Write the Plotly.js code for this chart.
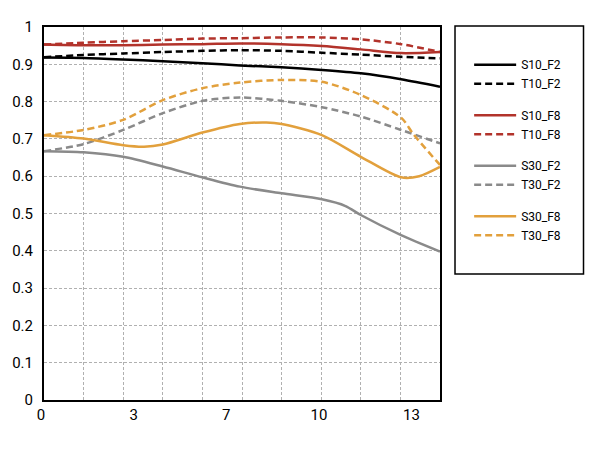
<!DOCTYPE html>
<html>
<head>
<meta charset="utf-8">
<script src="https://cdn.plot.ly/plotly-3.0.1.min.js"></script>
<style>html,body{margin:0;padding:0;background:#fff;}#chart{width:600px;height:450px;}</style>
</head>
<body>
<div id="chart"></div>
<script>
// Shared x positions (image height, mm)
const xGrid = [0, 1.425, 2.85, 4.275, 5.7, 7.05, 8.55, 10.0, 11.4, 12.85, 14.25];

const s10f2X = xGrid;
const s10f2Y = [0.918, 0.917, 0.913, 0.908, 0.903, 0.897, 0.892, 0.885, 0.876, 0.860, 0.840];
const t10f2X = xGrid;
const t10f2Y = [0.919, 0.925, 0.929, 0.933, 0.936, 0.938, 0.936, 0.931, 0.926, 0.920, 0.916];
const s10f8X = xGrid;
const s10f8Y = [0.953, 0.951, 0.951, 0.953, 0.954, 0.956, 0.954, 0.949, 0.940, 0.930, 0.933];
const t10f8X = xGrid;
const t10f8Y = [0.953, 0.958, 0.962, 0.965, 0.969, 0.970, 0.972, 0.972, 0.967, 0.954, 0.933];
const s30f2X = [0, 1.425, 2.85, 4.275, 5.7, 7.05, 8.55, 10.0, 10.85, 11.4, 12.85, 14.25];
const s30f2Y = [0.667, 0.664, 0.652, 0.626, 0.597, 0.572, 0.554, 0.538, 0.520, 0.496, 0.442, 0.398];
const t30f2X = xGrid;
const t30f2Y = [0.667, 0.686, 0.724, 0.769, 0.802, 0.811, 0.802, 0.785, 0.760, 0.724, 0.688];
const s30f8X = [0, 1.425, 2.85, 3.6, 4.275, 5.7, 7.05, 8.0, 8.55, 10.0, 11.4, 12.85, 13.5, 14.25];
const s30f8Y = [0.710, 0.701, 0.683, 0.679, 0.685, 0.717, 0.740, 0.744, 0.740, 0.710, 0.652, 0.597, 0.600, 0.625];
const t30f8X = [0, 1.425, 2.85, 4.275, 5.7, 7.05, 8.55, 10.0, 11.4, 12.85, 13.3, 14.25];
const t30f8Y = [0.710, 0.724, 0.751, 0.804, 0.836, 0.851, 0.858, 0.853, 0.818, 0.757, 0.712, 0.630];

const xTickVals = [0, 10/3, 20/3, 10, 40/3];
const xTickText = ['0', '3', '7', '10', '13'];

const BLACK = '#000000', RED = '#b2332b', GRAY = '#8a8a8a', ORANGE = '#e2a03c';
const DASH = '7px,4px';

function tr(name, x, y, color, dashed, group) {
  return {
    type: 'scatter', mode: 'lines', name: name, x: x, y: y,
    legendgroup: group,
    line: {color: color, width: 2.5, dash: dashed ? DASH : 'solid', shape: 'spline', smoothing: 0.8}
  };
}

const data = [
  tr('S10_F2', s10f2X, s10f2Y, BLACK, false, 'g1'),
  tr('T10_F2', t10f2X, t10f2Y, BLACK, true, 'g1'),
  tr('S10_F8', s10f8X, s10f8Y, RED, false, 'g2'),
  tr('T10_F8', t10f8X, t10f8Y, RED, true, 'g2'),
  tr('S30_F2', s30f2X, s30f2Y, GRAY, false, 'g3'),
  tr('T30_F2', t30f2X, t30f2Y, GRAY, true, 'g3'),
  tr('S30_F8', s30f8X, s30f8Y, ORANGE, false, 'g4'),
  tr('T30_F8', t30f8X, t30f8Y, ORANGE, true, 'g4')
];

const gridStyle = {gridcolor: '#b0b0b0', griddash: '3px,2px', gridwidth: 1};

const layout = {
  width: 600, height: 450,
  margin: {l: 44, r: 160, t: 27, b: 50},
  paper_bgcolor: '#ffffff', plot_bgcolor: '#ffffff',
  font: {family: 'Roboto, sans-serif', color: '#000', size: 15},
  showlegend: true,
  legend: {
    x: 1.0736, xanchor: 'left', y: 0.938, yanchor: 'top',
    font: {size: 12, family: 'Roboto, sans-serif'},
    itemwidth: 42,
    tracegroupgap: 12.5, borderwidth: 0, bgcolor: 'rgba(0,0,0,0)'
  },
  xaxis: {
    range: [0, 14.25], tickmode: 'array', tickvals: xTickVals, ticktext: xTickText,
    showgrid: false, zeroline: false, ticks: '', showline: true, linecolor: '#000', linewidth: 2, mirror: true,
    ticklabelshift: -3,
    minor: Object.assign({tick0: 0, dtick: 1.425, showgrid: true, ticks: ''}, gridStyle)
  },
  yaxis: Object.assign({
    range: [0, 1], dtick: 0.1, tick0: 0, showgrid: true, zeroline: false, ticks: '',
    showline: true, linecolor: '#000', linewidth: 2, mirror: true, ticklabelstandoff: 6
  }, gridStyle),
  shapes: [{
    type: 'rect', xref: 'paper', yref: 'paper',
    x0: 1.0379, x1: 1.3624, y0: 0.3378, y1: 1.0027,
    line: {color: '#000', width: 1.5}, fillcolor: 'rgba(0,0,0,0)'
  }]
};

Plotly.newPlot('chart', data, layout, {staticPlot: true, displayModeBar: false});
</script>
</body>
</html>
